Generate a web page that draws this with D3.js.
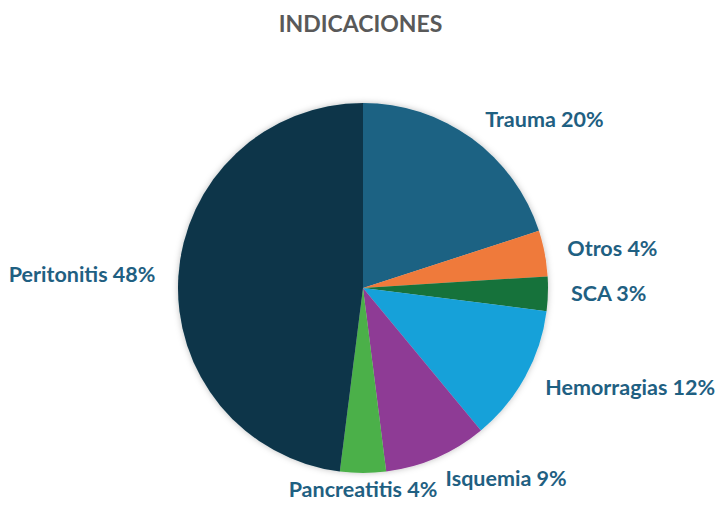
<!DOCTYPE html>
<html><head><meta charset="utf-8">
<script src="https://cdn.jsdelivr.net/npm/d3@7"></script>
<style>body{margin:0;background:#fff}</style>
</head><body>
<svg id="chart" width="717" height="506"></svg>
<script>
const categories = ["Trauma","Otros","SCA","Hemorragias","Isquemia","Pancreatitis","Peritonitis"];
const values = [20,4,3,12,9,4,48];
const colors = ["#1b6283","#ef7a3b","#17723b","#19a1d9","#8e3b95","#4cb04a","#0a3549"];
const title = "INDICACIONES";

const svg = d3.select("#chart");
const W=717,H=506, cx=363, cy=288, R=185;
const defs = svg.append("defs");
const f = defs.append("filter").attr("id","sh").attr("x","-20%").attr("y","-20%").attr("width","140%").attr("height","140%");
f.append("feDropShadow").attr("dx",0).attr("dy",0).attr("stdDeviation",3).attr("flood-color","#000").attr("flood-opacity",0.25);

svg.append("text").attr("x",W/2+2).attr("y",32).attr("text-anchor","middle")
  .attr("font-family","Lato, 'Open Sans', sans-serif").attr("font-weight","bold").attr("font-size",23)
  .attr("fill","#595959").text(title);

const data = categories.map((c,i)=>({c, v:values[i], col:colors[i]}));
const pie = d3.pie().value(d=>d.v).sort(null);
const arcs = pie(data);
const arc = d3.arc().innerRadius(0).outerRadius(R);
const labSide = d3.arc().innerRadius(208).outerRadius(208);
const labMid = d3.arc().innerRadius(202).outerRadius(202);
const anchorOf = d=>{const a=(d.startAngle+d.endAngle)/2, s=Math.sin(a);return s>0.3?"start":(s<-0.3?"end":"middle");};
const g = svg.append("g").attr("transform",`translate(${cx},${cy})`);
g.append("g").attr("filter","url(#sh)").selectAll("path").data(arcs).join("path")
  .attr("d",arc).attr("fill",d=>d.data.col);
g.selectAll("text").data(arcs).join("text")
  .attr("transform",d=>{const p=(anchorOf(d)==="middle"?labMid:labSide).centroid(d);return `translate(${p[0]},${p[1]})`;})
  .attr("dy","0.32em")
  .attr("text-anchor",anchorOf)
  .attr("font-family","Lato, 'Open Sans', sans-serif").attr("font-weight","bold").attr("font-size",21.5)
  .attr("fill","#1f6082")
  .text(d=>`${d.data.c} ${d.data.v}%`);
</script>
</body></html>
